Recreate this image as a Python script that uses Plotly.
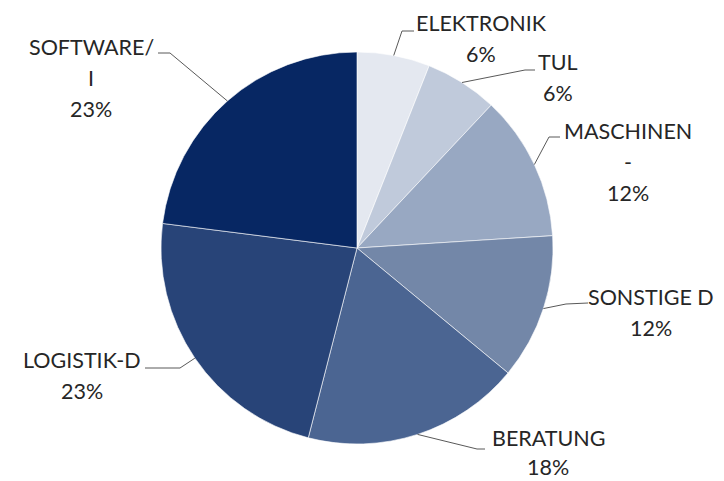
import math
import plotly.graph_objects as go

# ---- data ----
categories = ["ELEKTRONIK", "TUL", "MASCHINEN", "SONSTIGE D", "BERATUNG", "LOGISTIK-D", "SOFTWARE/"]
label_lines = [["ELEKTRONIK"], ["TUL"], ["MASCHINEN", "-"], ["SONSTIGE D"], ["BERATUNG"], ["LOGISTIK-D"], ["SOFTWARE/", "I"]]
values = [6, 6, 12, 12, 18, 23, 23]
colors = ["#e4e8f0", "#c0cadb", "#98a8c2", "#7387a8", "#4b6592", "#284478", "#072763"]

# ---- layout constants (window pixels) ----
OFF = 8  # page body margin
W, H = 724 - OFF, 481 - OFF
CX, CY, R = 357, 248, 196
# per label: elbow point, end point, text center x, first-line y, line gap
label_layout = [
    ((402, 31), (414, 31), 481, 23, 31),
    ((525, 70), (535, 70), 558, 62, 31),
    ((549, 137), (560, 137), 628, 131, 31),
    ((566, 304), (588, 303), 651, 297, 31),
    ((477, 449), (485, 449), 548, 438, 29),
    ((180, 368), (145, 368), 82, 360, 31),
    ((170, 53), (158, 53), 91, 47, 31),
]

def px(x):
    return (x - OFF) / W

def py(y):
    return 1 - (y - OFF) / H

fig = go.Figure(go.Pie(
    labels=categories,
    values=values,
    sort=False,
    direction="clockwise",
    rotation=0,
    marker=dict(colors=colors, line=dict(color="white", width=0.6)),
    textinfo="none",
    hoverinfo="label+percent",
    domain=dict(x=[px(CX - R), px(CX + R)], y=[py(CY + R), py(CY - R)]),
    showlegend=False,
))

total = sum(values)
cum = 0
shapes = []
annotations = []
for i, v in enumerate(values):
    mid = (cum + v / 2) / total * 2 * math.pi
    cum += v
    ex = CX + R * math.sin(mid)
    ey = CY - R * math.cos(mid)
    (bx, by), (tx, ty), lx, ly, gap = label_layout[i]
    shapes.append(dict(
        type="path", xref="paper", yref="paper",
        path=f"M {px(ex)} {py(ey)} L {px(bx)} {py(by)} L {px(tx)} {py(ty)}",
        line=dict(color="#595959", width=1),
    ))
    pct = f"{round(v / total * 100)}%"
    lines = label_lines[i] + [pct]
    for j, t in enumerate(lines):
        annotations.append(dict(
            x=px(lx), y=py(ly + j * gap), xref="paper", yref="paper",
            text=t, showarrow=False, xanchor="center", yanchor="middle",
            font=dict(family="Lato, Liberation Sans, sans-serif", size=21.5, color="#262626"),
        ))

fig.update_layout(
    width=W, height=H,
    margin=dict(l=0, r=0, t=0, b=0),
    paper_bgcolor="white",
    plot_bgcolor="white",
    shapes=shapes,
    annotations=annotations,
)

fig.write_html("out.html")
